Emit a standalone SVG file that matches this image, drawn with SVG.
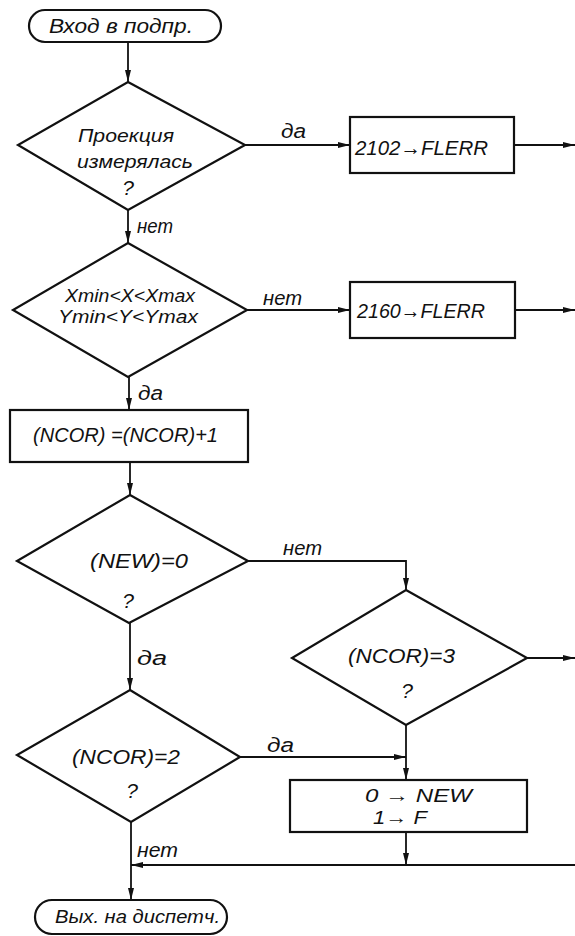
<svg xmlns="http://www.w3.org/2000/svg" width="575" height="936" viewBox="0 0 575 936">
<style>
.s{fill:#fff;stroke:#111;stroke-width:2.2}
.l{fill:none;stroke:#111;stroke-width:1.8}
.t{font-family:"Liberation Sans","DejaVu Sans",sans-serif;font-style:italic;fill:#111}
.m{text-anchor:middle}
.q{font-size:21px;text-anchor:middle}
.lb{font-size:20px}
</style>
<defs>
<marker id="a" viewBox="0 0 12 6" refX="12" refY="3" markerWidth="12" markerHeight="6" markerUnits="userSpaceOnUse" orient="auto">
<path d="M0,0 L12,3 L0,6 Z" fill="#111"/>
</marker>
</defs>
<rect width="575" height="936" fill="#fff"/>
<g id="connectors">
<line class="l" x1="128" y1="42" x2="128" y2="82" marker-end="url(#a)"/>
<line class="l" x1="245" y1="145" x2="350" y2="145" marker-end="url(#a)"/>
<line class="l" x1="514" y1="145" x2="575" y2="145" marker-end="url(#a)"/>
<line class="l" x1="128" y1="210" x2="128" y2="243" marker-end="url(#a)"/>
<line class="l" x1="247" y1="310" x2="350" y2="310" marker-end="url(#a)"/>
<line class="l" x1="515" y1="310" x2="575" y2="310" marker-end="url(#a)"/>
<line class="l" x1="129" y1="377" x2="129" y2="410" marker-end="url(#a)"/>
<line class="l" x1="130" y1="462" x2="130" y2="495" marker-end="url(#a)"/>
<line class="l" x1="130" y1="623" x2="130" y2="690" marker-end="url(#a)"/>
<polyline class="l" points="248,561 406,561 406,590" marker-end="url(#a)"/>
<line class="l" x1="527" y1="658" x2="575" y2="658" marker-end="url(#a)"/>
<line class="l" x1="406" y1="725" x2="406" y2="780" marker-end="url(#a)"/>
<line class="l" x1="240" y1="757" x2="406" y2="757" marker-end="url(#a)"/>
<line class="l" x1="406" y1="832" x2="406" y2="865" marker-end="url(#a)"/>
<line class="l" x1="575" y1="865" x2="131" y2="865" marker-end="url(#a)"/>
<line class="l" x1="131" y1="822" x2="131" y2="900" marker-end="url(#a)"/>
<text class="t lb" x="281" y="138" textLength="25" lengthAdjust="spacingAndGlyphs">да</text>
<text class="t lb" x="137" y="233" textLength="36" lengthAdjust="spacingAndGlyphs">нет</text>
<text class="t lb" x="263" y="305" textLength="39" lengthAdjust="spacingAndGlyphs">нет</text>
<text class="t lb" x="138" y="400" textLength="25" lengthAdjust="spacingAndGlyphs">да</text>
<text class="t lb" x="283" y="555" textLength="39" lengthAdjust="spacingAndGlyphs">нет</text>
<text class="t lb" x="137" y="665" textLength="30" lengthAdjust="spacingAndGlyphs">да</text>
<text class="t lb" x="267" y="752" textLength="27" lengthAdjust="spacingAndGlyphs">да</text>
<text class="t lb" x="137" y="857" textLength="41" lengthAdjust="spacingAndGlyphs">нет</text>
</g>
<g id="start">
<rect class="s" x="29" y="10" width="192" height="32" rx="16"/>
<text class="t" x="49" y="33" font-size="20" textLength="144" lengthAdjust="spacingAndGlyphs">Вход в подпр.</text>
</g>
<g id="d1">
<polygon class="s" points="128,82 245,145 128,210 18,145"/>
<text class="t m" x="126" y="142" font-size="18" textLength="96" lengthAdjust="spacingAndGlyphs">Проекция</text>
<text class="t m" x="135" y="168" font-size="18" textLength="116" lengthAdjust="spacingAndGlyphs">измерялась</text>
<text class="t q" x="128" y="195">?</text>
</g>
<g id="b1">
<rect class="s" x="350" y="117" width="164" height="56"/>
<text class="t" x="355" y="155" font-size="21" textLength="133" lengthAdjust="spacingAndGlyphs">2102→FLERR</text>
</g>
<g id="d2">
<polygon class="s" points="128,243 247,310 128,377 13,310"/>
<text class="t m" x="130" y="302" font-size="18" textLength="130" lengthAdjust="spacingAndGlyphs">Xmin&lt;X&lt;Xmax</text>
<text class="t m" x="128" y="323" font-size="18" textLength="140" lengthAdjust="spacingAndGlyphs">Ymin&lt;Y&lt;Ymax</text>
</g>
<g id="b2">
<rect class="s" x="350" y="282" width="165" height="56"/>
<text class="t" x="357" y="318" font-size="21" textLength="128" lengthAdjust="spacingAndGlyphs">2160→FLERR</text>
</g>
<g id="b3">
<rect class="s" x="10" y="410" width="238" height="52"/>
<text class="t" x="33" y="442" font-size="20" textLength="185" lengthAdjust="spacingAndGlyphs">(NCOR) =(NCOR)+1</text>
</g>
<g id="d3">
<polygon class="s" points="130,495 248,561 129,623 17,561"/>
<text class="t" x="90" y="568" font-size="20" textLength="98" lengthAdjust="spacingAndGlyphs">(NEW)=0</text>
<text class="t q" x="128" y="608">?</text>
</g>
<g id="d4">
<polygon class="s" points="406,590 527,658 406,725 292,658"/>
<text class="t" x="348" y="663" font-size="20" textLength="107" lengthAdjust="spacingAndGlyphs">(NCOR)=3</text>
<text class="t q" x="407" y="698">?</text>
</g>
<g id="d5">
<polygon class="s" points="130,690 240,757 131,822 17,755"/>
<text class="t" x="72" y="764" font-size="20" textLength="108" lengthAdjust="spacingAndGlyphs">(NCOR)=2</text>
<text class="t q" x="132" y="798">?</text>
</g>
<g id="b4">
<rect class="s" x="290" y="780" width="237" height="52"/>
<text class="t" x="365" y="802" font-size="19" textLength="107" lengthAdjust="spacingAndGlyphs">0 → NEW</text>
<text class="t" x="373" y="824" font-size="19" textLength="54" lengthAdjust="spacingAndGlyphs">1→ F</text>
</g>
<g id="end">
<rect class="s" x="35" y="900" width="192" height="34" rx="17"/>
<text class="t" x="55" y="923" font-size="19" textLength="165" lengthAdjust="spacingAndGlyphs">Вых. на диспетч.</text>
</g>
</svg>
